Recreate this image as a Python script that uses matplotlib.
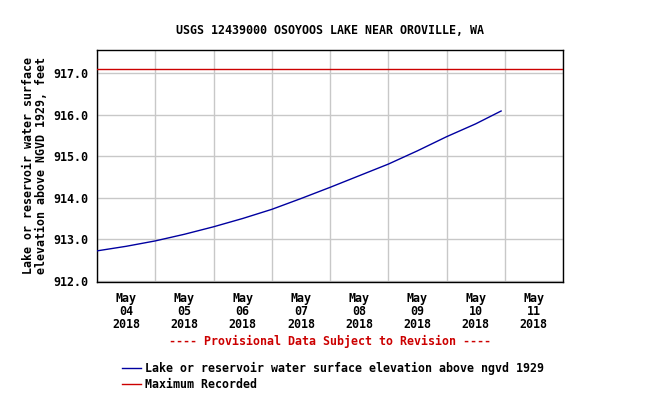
import datetime as dt
import matplotlib
matplotlib.use('Agg')
import matplotlib.pyplot as plt
from matplotlib.lines import Line2D

# ── Data ───────────────────────────────────────────────────
times = [dt.datetime(2018, 5, 4, 0), dt.datetime(2018, 5, 4, 12),
         dt.datetime(2018, 5, 5, 0), dt.datetime(2018, 5, 5, 12),
         dt.datetime(2018, 5, 6, 0), dt.datetime(2018, 5, 6, 12),
         dt.datetime(2018, 5, 7, 0), dt.datetime(2018, 5, 7, 12),
         dt.datetime(2018, 5, 8, 0), dt.datetime(2018, 5, 8, 12),
         dt.datetime(2018, 5, 9, 0), dt.datetime(2018, 5, 9, 12),
         dt.datetime(2018, 5, 10, 0), dt.datetime(2018, 5, 10, 12),
         dt.datetime(2018, 5, 10, 22, 30)]
elevation = [912.72, 912.83, 912.96, 913.12, 913.30, 913.50, 913.72, 913.98,
             914.25, 914.53, 914.81, 915.13, 915.47, 915.78, 916.09]
max_recorded = 917.10

y_ticks = [912.0, 913.0, 914.0, 915.0, 916.0, 917.0]
day_labels = ['May\n04\n2018', 'May\n05\n2018', 'May\n06\n2018', 'May\n07\n2018',
              'May\n08\n2018', 'May\n09\n2018', 'May\n10\n2018', 'May\n11\n2018']

FONT = 'DejaVu Sans Mono'
FS = 8.4
BLUE = '#0000A0'
RED = '#CC0000'

fig = plt.figure(figsize=(6.62, 3.97), dpi=100)
ax = fig.add_axes([97 / 662, 1 - 282 / 397, (563 - 97) / 662, (282 - 50) / 397])

ax.plot(times, elevation, color=BLUE, linewidth=1.0, zorder=3)
ax.axhline(max_recorded, color=RED, linewidth=1.0, zorder=3)

x0 = dt.datetime(2018, 5, 4)
x1 = dt.datetime(2018, 5, 12)
ax.set_xlim(x0, x1)
ax.set_ylim(911.97, 917.56)

# gridlines at midnight, labels at noon
midnights = [x0 + dt.timedelta(days=i) for i in range(9)]
noons = [x0 + dt.timedelta(days=i, hours=12) for i in range(8)]
ax.set_xticks(midnights)
ax.set_xticklabels([])
ax.set_xticks(noons, minor=True)
ax.set_xticklabels(day_labels, minor=True, fontfamily=FONT, fontweight='bold',
                   fontsize=FS, linespacing=1.0)
ax.tick_params(axis='x', which='both', length=0)
ax.tick_params(axis='x', which='minor', pad=7)

ax.set_yticks(y_ticks)
ax.set_yticklabels([f'{v:.1f}' for v in y_ticks], fontfamily=FONT,
                   fontweight='bold', fontsize=FS)
ax.tick_params(axis='y', length=0, pad=6)

ax.grid(True, which='major', color='#C8C8C8', linewidth=1.0, zorder=1)
for s in ax.spines.values():
    s.set_color('black')
    s.set_linewidth(1.0)

ax.set_ylabel('Lake or reservoir water surface\nelevation above NGVD 1929, feet',
              fontfamily=FONT, fontweight='bold', fontsize=FS, linespacing=1.0,
              labelpad=4)

fig.text(330 / 662, 1 - 31 / 397, 'USGS 12439000 OSOYOOS LAKE NEAR OROVILLE, WA',
         ha='center', va='center', fontfamily=FONT, fontweight='bold', fontsize=FS)
fig.text(330 / 662, 1 - 341 / 397, '---- Provisional Data Subject to Revision ----',
         ha='center', va='center', fontfamily=FONT, fontweight='bold', fontsize=FS,
         color=RED)

handles = [Line2D([], [], color=BLUE, linewidth=1.0),
           Line2D([], [], color=RED, linewidth=1.0)]
labels = ['Lake or reservoir water surface elevation above ngvd 1929',
          'Maximum Recorded']
fig.legend(handles, labels, loc='upper left', bbox_to_anchor=(122 / 662, 1 - 362 / 397),
           frameon=False, prop={'family': FONT, 'weight': 'bold', 'size': FS},
           handlelength=1.6, handletextpad=0.4, labelspacing=0.25, borderpad=0,
           borderaxespad=0)

fig.savefig('out.png', dpi=100)
